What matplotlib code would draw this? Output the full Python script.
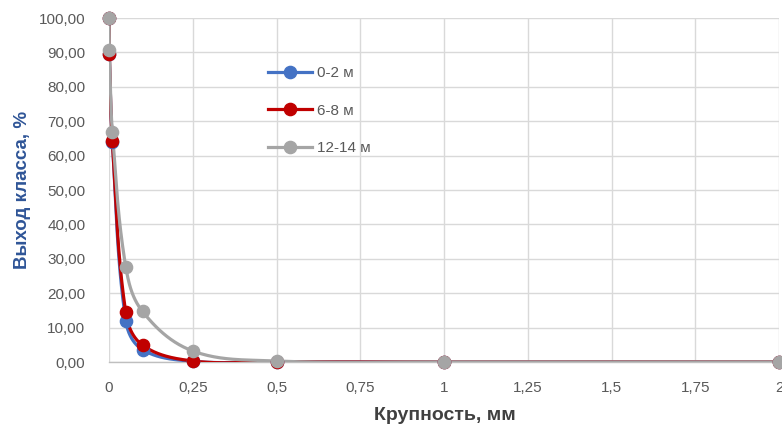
import numpy as np
import matplotlib
matplotlib.use("Agg")
import matplotlib.pyplot as plt

# Particle size (mm) and class yield (%) for three depth intervals
size_mm = [0, 0.001, 0.01, 0.05, 0.1, 0.25, 0.5, 1, 2]
yield_0_2 = [100, 89.5, 64.0, 12.0, 3.6, 0.2, 0.05, 0.0, 0.0]
yield_6_8 = [100, 89.4, 64.2, 14.4, 4.9, 0.3, 0.05, 0.0, 0.0]
yield_12_14 = [100, 90.8, 67.0, 27.7, 14.7, 3.2, 0.3, 0.0, 0.0]

series_names = ["0-2 м", "6-8 м", "12-14 м"]
series_colors = ["#4472C4", "#C00000", "#A5A5A5"]

x_ticks = [0, 0.25, 0.5, 0.75, 1, 1.25, 1.5, 1.75, 2]
x_tick_labels = ["0", "0,25", "0,5", "0,75", "1", "1,25", "1,5", "1,75", "2"]
y_ticks = list(range(0, 101, 10))
y_tick_labels = [f"{v},00" for v in y_ticks]

plt.rcParams["font.family"] = ["Liberation Sans", "DejaVu Sans"]

fig = plt.figure(figsize=(7.82, 4.30), dpi=100)
ax = fig.add_axes([109 / 782, 1 - 362 / 430, 670 / 782, 344 / 430])


def smooth_curve(xs, ys, n=40, k=0.35):
    """Bezier smoothing through the points, computed in screen-like units.
    Control-point distances scale with each segment's own length."""
    sx, sy = 670 / 2.0, 344 / 100.0
    P = np.column_stack([np.asarray(xs, float) * sx, np.asarray(ys, float) * sy])
    m = len(P)
    tang = []
    for i in range(m):
        a = P[i - 1] if i > 0 else P[i]
        b = P[i + 1] if i < m - 1 else P[i]
        d = b - a
        nrm = np.hypot(*d)
        tang.append(d / nrm if nrm > 0 else np.zeros(2))
    pts = []
    t = np.linspace(0, 1, n)[:, None]
    for i in range(m - 1):
        p1, p2 = P[i], P[i + 1]
        L = np.hypot(*(p2 - p1))
        c1 = p1 + tang[i] * L * k
        c2 = p2 - tang[i + 1] * L * k
        seg = ((1 - t) ** 3) * p1 + 3 * ((1 - t) ** 2) * t * c1 \
            + 3 * (1 - t) * t ** 2 * c2 + t ** 3 * p2
        pts.append(seg if i == 0 else seg[1:])
    pts = np.vstack(pts)
    return pts[:, 0] / sx, pts[:, 1] / sy


for ys, name, col in zip([yield_0_2, yield_6_8, yield_12_14], series_names, series_colors):
    cx, cy = smooth_curve(size_mm, ys)
    ax.plot(cx, cy, color=col, lw=2.3, solid_capstyle="round", zorder=3)
    ax.plot(size_mm, ys, linestyle="none", marker="o", ms=8.8, color=col,
            zorder=4, clip_on=False)
    ax.plot([], [], color=col, lw=2.3, marker="o", ms=8.8, label=name)

ax.set_xlim(0, 2)
ax.set_ylim(0, 100)
ax.set_xticks(x_ticks)
ax.set_xticklabels(x_tick_labels)
ax.set_yticks(y_ticks)
ax.set_yticklabels(y_tick_labels)
ax.tick_params(axis="both", length=0, labelsize=11, colors="#595959")
ax.tick_params(axis="x", pad=14)
ax.tick_params(axis="y", pad=17)
ax.grid(True, color="#D9D9D9", lw=1)
ax.set_axisbelow(True)
for s in ["top", "right", "left"]:
    ax.spines[s].set_visible(False)
ax.spines["bottom"].set_color("#BFBFBF")
ax.spines["bottom"].set_linewidth(1)

fig.text(445 / 782, 1 - 416 / 430, "Крупность, мм", fontsize=14, fontweight="bold",
         color="#404040", ha="center", va="center")
fig.text(23 / 782, 1 - 190 / 430, "Выход класса, %", fontsize=13.5, fontweight="bold",
         color="#2F5597", ha="center", va="center", rotation=90)

leg = ax.legend(loc="upper left", bbox_to_anchor=(153 / 670, 1 - 42 / 344),
                frameon=False, fontsize=11, handlelength=2.9, labelspacing=1.55,
                handletextpad=0.3, borderaxespad=0)
for txt in leg.get_texts():
    txt.set_color("#595959")

fig.savefig("out.png", dpi=100)
